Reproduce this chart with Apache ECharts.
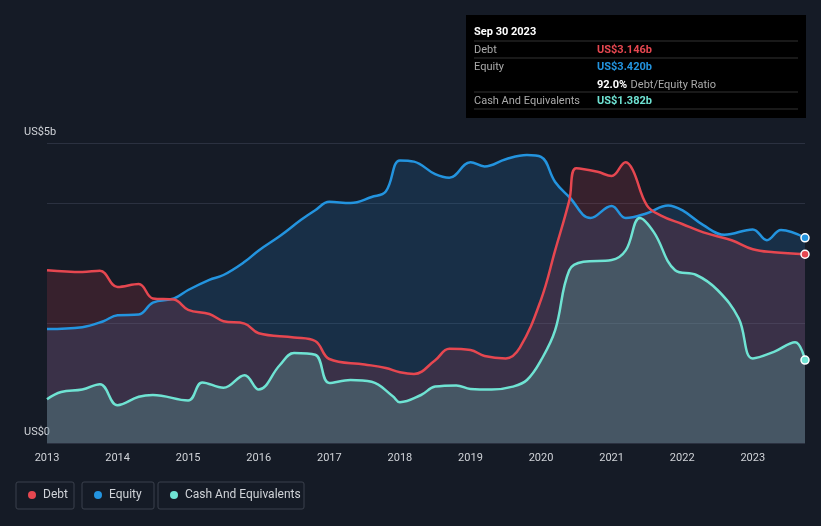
<!DOCTYPE html>
<html><head><meta charset="utf-8">
<script src="https://cdn.jsdelivr.net/npm/echarts@6/dist/echarts.min.js"></script>
<style>html,body{margin:0;background:#151b26}#c{width:821px;height:526px}</style>
</head><body><div id="c"></div>
<script>
const xTicks = [2013, 2014, 2015, 2016, 2017, 2018, 2019, 2020, 2021, 2022, 2023]
const debtX = [2013, 2013.5, 2013.75, 2014, 2014.3, 2014.5, 2014.8, 2015, 2015.3, 2015.5, 2015.8, 2016, 2016.5, 2016.8, 2017, 2017.5, 2017.8, 2018, 2018.2, 2018.5, 2018.7, 2019, 2019.2, 2019.5, 2019.7, 2020, 2020.2, 2020.4, 2020.5, 2020.8, 2021, 2021.2, 2021.3, 2021.5, 2021.7, 2022, 2022.3, 2022.7, 2023, 2023.3, 2023.74]
const debtY = [2.88, 2.85, 2.87, 2.60, 2.65, 2.41, 2.39, 2.22, 2.15, 2.03, 1.99, 1.83, 1.76, 1.70, 1.40, 1.31, 1.25, 1.18, 1.15, 1.38, 1.57, 1.55, 1.45, 1.41, 1.59, 2.39, 3.21, 4.04, 4.58, 4.52, 4.45, 4.68, 4.55, 3.96, 3.79, 3.65, 3.51, 3.38, 3.23, 3.18, 3.146]
const equityX = [2013, 2013.5, 2013.8, 2014, 2014.3, 2014.5, 2014.8, 2015, 2015.3, 2015.5, 2015.8, 2016, 2016.3, 2016.6, 2016.8, 2017, 2017.3, 2017.6, 2017.8, 2018, 2018.2, 2018.5, 2018.7, 2019, 2019.2, 2019.5, 2019.8, 2020, 2020.2, 2020.4, 2020.7, 2021, 2021.2, 2021.5, 2021.8, 2022, 2022.3, 2022.6, 2023, 2023.2, 2023.4, 2023.74]
const equityY = [1.90, 1.93, 2.03, 2.13, 2.14, 2.34, 2.41, 2.55, 2.72, 2.80, 3.02, 3.21, 3.45, 3.72, 3.88, 4.02, 4.00, 4.10, 4.19, 4.71, 4.69, 4.48, 4.42, 4.68, 4.61, 4.73, 4.80, 4.77, 4.35, 4.10, 3.75, 3.95, 3.75, 3.83, 3.96, 3.88, 3.63, 3.47, 3.56, 3.38, 3.55, 3.42]
const cashX = [2013, 2013.2, 2013.5, 2013.75, 2014, 2014.3, 2014.5, 2015, 2015.2, 2015.5, 2015.8, 2016, 2016.3, 2016.5, 2016.8, 2017, 2017.3, 2017.6, 2017.9, 2018, 2018.3, 2018.5, 2018.8, 2019, 2019.3, 2019.6, 2019.8, 2020, 2020.2, 2020.4, 2020.6, 2021, 2021.2, 2021.4, 2021.6, 2021.9, 2022.2, 2022.5, 2022.8, 2023, 2023.3, 2023.6, 2023.74]
const cashY = [0.73, 0.85, 0.89, 0.98, 0.63, 0.77, 0.80, 0.71, 1.01, 0.92, 1.13, 0.89, 1.30, 1.50, 1.47, 1.00, 1.05, 1.02, 0.78, 0.68, 0.80, 0.94, 0.96, 0.90, 0.89, 0.94, 1.05, 1.38, 1.88, 2.88, 3.02, 3.05, 3.21, 3.75, 3.51, 2.88, 2.80, 2.55, 2.08, 1.41, 1.52, 1.68, 1.382]

const pair = (xs, ys) => xs.map((x, i) => [x, ys[i]])
const mk = (name, xs, ys, color, fill) => ({
  name, type: 'line', smooth: 0.4, symbol: 'none', data: pair(xs, ys),
  lineStyle: { color, width: 2.5 }, itemStyle: { color },
  areaStyle: { color: fill },
  markPoint: { symbol: 'circle', symbolSize: 8, data: [{ coord: [xs[xs.length - 1], ys[ys.length - 1]] }],
    itemStyle: { color, borderColor: '#fff', borderWidth: 1.5 }, label: { show: false } }
})

const chart = echarts.init(document.getElementById('c'))
chart.setOption({
  backgroundColor: '#151b26',
  animation: false,
  grid: { left: 47, right: 16, top: 143, bottom: 83 },
  xAxis: {
    type: 'value', min: 2013, max: 2023.74, interval: 1,
    axisLabel: { color: '#d0d3d8', fontSize: 11, fontFamily: 'Roboto', margin: 10, formatter: (v) => xTicks.includes(v) ? String(v) : '' },
    axisLine: { show: false }, axisTick: { show: false }, splitLine: { show: false }
  },
  yAxis: {
    type: 'value', min: 0, max: 5, interval: 1,
    axisLabel: { show: false }, axisLine: { show: false }, axisTick: { show: false },
    splitLine: { lineStyle: { color: ['#2b3140', 'transparent', '#2b3140', 'transparent', '#2b3140', '#2b3140'] } }
  },
  series: [
    mk('Equity', equityX, equityY, '#2394df', 'rgba(35,120,190,0.32)'),
    mk('Debt', debtX, debtY, '#e64750', 'rgba(200,60,75,0.28)'),
    mk('Cash And Equivalents', cashX, cashY, '#6fe3d3', 'rgba(111,200,190,0.35)')
  ],
  graphic: [
    { type: 'text', left: 24, top: 127, style: { text: 'US$5b', fill: '#d0d3d8', font: '11px Roboto' } },
    { type: 'text', left: 24, top: 427, style: { text: 'US$0', fill: '#d0d3d8', font: '11px Roboto' } },
    { type: 'rect', shape: { x: 466, y: 15, width: 340, height: 103 }, style: { fill: '#000' } },
    { type: 'text', left: 474, top: 27, style: { text: 'Sep 30 2023', fill: '#fff', font: 'bold 11px Roboto' } },
    { type: 'line', shape: { x1: 474, y1: 41, x2: 798, y2: 41 }, style: { stroke: '#333' } },
    { type: 'text', left: 474, top: 45, style: { text: 'Debt', fill: '#aaa', font: '11px Roboto' } },
    { type: 'text', left: 597, top: 45, style: { text: 'US$3.146b', fill: '#e64750', font: 'bold 11px Roboto' } },
    { type: 'line', shape: { x1: 474, y1: 58, x2: 798, y2: 58 }, style: { stroke: '#333' } },
    { type: 'text', left: 474, top: 62, style: { text: 'Equity', fill: '#aaa', font: '11px Roboto' } },
    { type: 'text', left: 597, top: 62, style: { text: 'US$3.420b', fill: '#2394df', font: 'bold 11px Roboto' } },
    { type: 'text', left: 597, top: 79, style: { rich: { a: { fill: '#fff', font: 'bold 11px Roboto' }, b: { fill: '#aaa', font: '11px Roboto' } }, text: '{a|92.0%} {b|Debt/Equity Ratio}' } },
    { type: 'line', shape: { x1: 474, y1: 92, x2: 798, y2: 92 }, style: { stroke: '#333' } },
    { type: 'text', left: 474, top: 96, style: { text: 'Cash And Equivalents', fill: '#aaa', font: '11px Roboto' } },
    { type: 'text', left: 597, top: 96, style: { text: 'US$1.382b', fill: '#6fe3d3', font: 'bold 11px Roboto' } },
    { type: 'line', shape: { x1: 474, y1: 109, x2: 798, y2: 109 }, style: { stroke: '#333' } },
    { type: 'rect', shape: { x: 16, y: 482, width: 58, height: 27, r: 2 }, style: { fill: 'none', stroke: '#3a404c' } },
    { type: 'circle', shape: { cx: 32, cy: 495, r: 4 }, style: { fill: '#e64750' } },
    { type: 'text', left: 43, top: 489, style: { text: 'Debt', fill: '#d0d3d8', font: '12px Roboto' } },
    { type: 'rect', shape: { x: 82, y: 482, width: 72, height: 27, r: 2 }, style: { fill: 'none', stroke: '#3a404c' } },
    { type: 'circle', shape: { cx: 98, cy: 495, r: 4 }, style: { fill: '#2394df' } },
    { type: 'text', left: 109, top: 489, style: { text: 'Equity', fill: '#d0d3d8', font: '12px Roboto' } },
    { type: 'rect', shape: { x: 158, y: 482, width: 146, height: 27, r: 2 }, style: { fill: 'none', stroke: '#3a404c' } },
    { type: 'circle', shape: { cx: 174, cy: 495, r: 4 }, style: { fill: '#6fe3d3' } },
    { type: 'text', left: 185, top: 489, style: { text: 'Cash And Equivalents', fill: '#d0d3d8', font: '12px Roboto' } }
  ]
})
</script></body></html>
